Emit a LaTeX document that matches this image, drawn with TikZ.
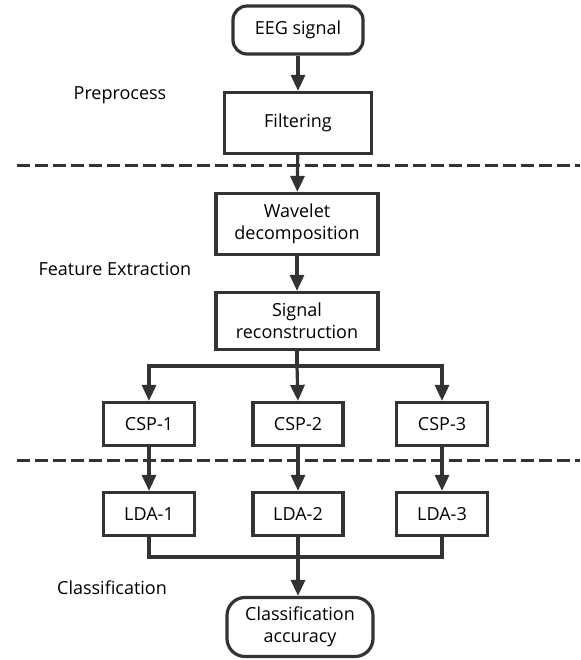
\documentclass[tikz,border=0pt]{standalone}
\usepackage{fontspec}
\setmainfont{Open Sans}
\usetikzlibrary{arrows.meta,positioning}
\definecolor{ink}{HTML}{333333}
\tikzset{
  x=1pt, y=-1pt,
  box/.style={draw=ink, line width=3.2pt, fill=white, align=center,
    font=\fontsize{18}{22}\selectfont, inner sep=0pt},
  term/.style={box, rounded corners=14pt},
  flow/.style={draw=ink, line width=3.2pt,
    -{Triangle[length=16pt,width=14pt]}},
  link/.style={draw=ink, line width=3.2pt},
  sep/.style={draw=ink, line width=3pt, dash pattern=on 13pt off 5pt},
  tag/.style={font=\fontsize{18}{22}\selectfont, text=black}
}
\begin{document}
\begin{tikzpicture}
\useasboundingbox (0,0) rectangle (580,660);

% section separators
\draw[sep] (17,166) -- (580,166);
\draw[sep] (17,460) -- (580,460);

% stage labels
\node[tag] (lpre) at (120,95) {Preprocess};
\node[tag, anchor=west] (lfeat) at (35,269) {Feature Extraction};
\node[tag] (lcls) at (112,588) {Classification};

% main chain
\node[term, minimum width=130pt, minimum height=48pt] (eeg) at (298,30) {EEG signal};
\node[box, minimum width=147pt, minimum height=61pt] (filt) at (298,123) {Filtering};
\node[box, minimum width=162pt, minimum height=61pt] (wave) at (297,224) {Wavelet\\decomposition};
\node[box, minimum width=162pt, minimum height=57pt] (recon) at (297,321) {Signal\\reconstruction};

% CSP row
\node[box, minimum width=91pt, minimum height=43pt] (csp1) at (149,424) {CSP-1};
\node[box, minimum width=90pt, minimum height=43pt] (csp2) at (298,424) {CSP-2};
\node[box, minimum width=91pt, minimum height=43pt] (csp3) at (442,424) {CSP-3};

% LDA row
\node[box, minimum width=91pt, minimum height=43pt] (lda1) at (149,514) {LDA-1};
\node[box, minimum width=90pt, minimum height=43pt] (lda2) at (298,514) {LDA-2};
\node[box, minimum width=91pt, minimum height=43pt] (lda3) at (442,514) {LDA-3};

\node[term, minimum width=146pt, minimum height=59pt, rounded corners=18pt] (acc) at (300,627) {Classification\\accuracy};

% branching points
\coordinate (split) at (recon.south |- 0,366);
\coordinate (merge) at (lda2.south |- 0,557);

% connectors
\draw[flow] (eeg) -- (filt);
\draw[flow] (filt) -- (wave);
\draw[flow] (wave) -- (recon);
\draw[link] (recon.south) -- (split);
\draw[flow] (split) -| (csp1.north);
\draw[flow] (split) -- (csp2.north);
\draw[flow] (split) -| (csp3.north);
\draw[flow] (csp1) -- (lda1);
\draw[flow] (csp2) -- (lda2);
\draw[flow] (csp3) -- (lda3);
\draw[link] (lda1.south) |- (merge);
\draw[link] (lda3.south) |- (merge);
\draw[link] (lda2.south) -- (merge);
\draw[flow] (merge) -- (merge |- acc.north);
\end{tikzpicture}
\end{document}
